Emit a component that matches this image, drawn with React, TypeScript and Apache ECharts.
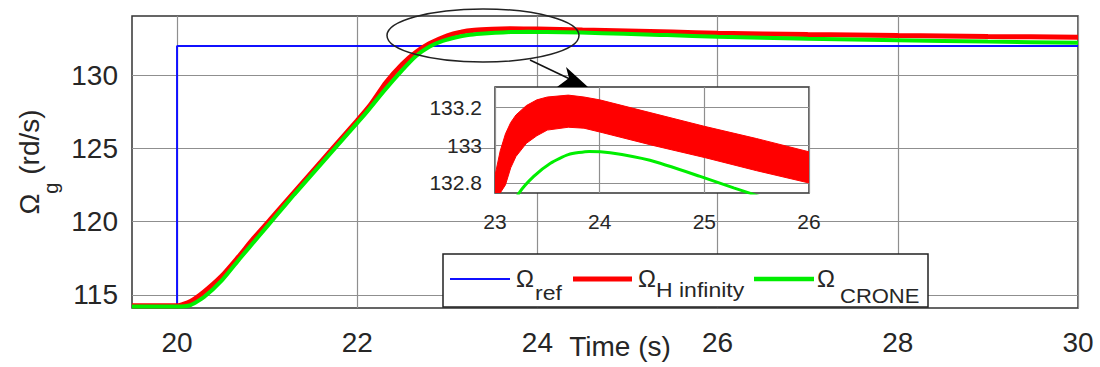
import React, { useEffect, useRef } from "react";
import * as echarts from "echarts";

// ---------- data ----------
const xTickValues = [20, 22, 24, 26, 28, 30];
const yTickValues = [115, 120, 125, 130];
const insetYTickValues = [132.8, 133, 133.2];

const refTime = [19.5, 20, 20, 30];
const refValue = [114.25, 114.25, 132, 132];

const hinfTime = [19.5, 20.0, 20.15, 20.3, 20.5, 20.67, 20.85, 21.03, 21.2, 21.4, 21.6, 21.77, 22.0, 22.15, 22.32, 22.5, 22.65, 22.8, 23.0, 23.15, 23.3, 23.5, 23.7, 24.0, 24.5, 25.0, 25.5, 26.0, 27, 28, 29, 30];
const hinfValue = [114.25, 114.25, 114.55, 115.2, 116.3, 117.5, 118.85, 120.1, 121.3, 122.7, 124.1, 125.3, 126.9, 128.0, 129.5, 130.75, 131.55, 132.15, 132.7, 132.95, 133.08, 133.15, 133.18, 133.155, 133.085, 133.02, 132.95, 132.88, 132.78, 132.71, 132.65, 132.6];

const croneTime = [19.5, 20.0, 20.15, 20.3, 20.5, 20.7, 20.9, 21.1, 21.3, 21.5, 21.7, 21.9, 22.1, 22.3, 22.5, 22.65, 22.8, 22.95, 23.1, 23.23, 23.37, 23.53, 23.7, 23.9, 24.1, 24.48, 24.96, 25.28, 25.44, 26, 27, 28, 29, 30];
const croneValue = [114.2, 114.2, 114.3, 114.85, 116.0, 117.5, 118.95, 120.4, 121.85, 123.25, 124.65, 126.05, 127.45, 128.95, 130.35, 131.3, 131.95, 132.35, 132.6, 132.747, 132.835, 132.905, 132.95, 132.967, 132.96, 132.92, 132.835, 132.774, 132.745, 132.64, 132.5, 132.4, 132.3, 132.22];

// H infinity oscillation envelope in the zoomed inset
const bandTime = [23.0, 23.05, 23.1, 23.15, 23.2, 23.3, 23.4, 23.5, 23.7, 23.85, 24.0, 24.5, 25.0, 25.5, 26.0];
const bandUpper = [132.84, 132.97, 133.06, 133.12, 133.16, 133.21, 133.24, 133.255, 133.265, 133.255, 133.24, 133.17, 133.1, 133.035, 132.965];
const bandLower = [132.55, 132.68, 132.79, 132.88, 132.94, 133.01, 133.05, 133.08, 133.095, 133.09, 133.07, 133.0, 132.935, 132.865, 132.8];

const legendNames = ["ref", "H infinity", "CRONE"];

// ---------- helpers ----------
const zip = (a: number[], b: number[]) => a.map((v, i) => [v, b[i]]);
const FONT = "'Liberation Sans', Arial, Helvetica, sans-serif";
const TXT = "#262626";
const GRIDC = "#8f8f8f";
const BLUE = "#1010ff";
const RED = "#ff0000";
const GREEN = "#00ee00";

export default function App() {
  const ref = useRef<HTMLDivElement>(null);

  useEffect(() => {
    if (!ref.current) return;
    const chart = echarts.init(ref.current, undefined, { renderer: "svg" });

    const legendText = (text: string, x: number, y: number, size: number, sx: number) => ({
      type: "text",
      x,
      y,
      scaleX: sx,
      z: 22,
      style: {
        text,
        fill: TXT,
        fontSize: size,
        fontFamily: FONT,
        align: "left",
        textAlign: "left",
        verticalAlign: "middle",
        textVerticalAlign: "middle",
      },
    });

    const option: any = {
      animation: false,
      backgroundColor: "#ffffff",
      textStyle: { fontFamily: FONT },
      grid: [
        { left: 132, top: 16, width: 946, height: 292, outerBoundsMode: "none", containLabel: false, show: true, borderColor: "#333", borderWidth: 1.5, backgroundColor: "#fff", z: 0 },
        { left: 495, top: 87, width: 314, height: 106, outerBoundsMode: "none", containLabel: false, show: true, borderColor: "#333", borderWidth: 1.5, backgroundColor: "#fff", z: 10 },
      ],
      xAxis: [
        {
          type: "value",
          gridIndex: 0,
          min: 19.5,
          max: 30,
          axisLine: { show: false },
          axisTick: { show: false, customValues: xTickValues },
          axisLabel: { customValues: xTickValues, fontSize: 28, color: TXT, margin: 20, fontFamily: FONT },
          splitLine: { show: true, lineStyle: { color: GRIDC, width: 1.2 } },
          name: "Time (s)",
          nameLocation: "middle",
          nameGap: 24,
          nameMoveOverlap: false,
          nameTextStyle: { fontSize: 28, color: TXT, fontFamily: FONT, padding: [0, 0, 0, 30] },
        },
        {
          type: "value",
          gridIndex: 1,
          min: 23,
          max: 26,
          interval: 1,
          z: 11,
          axisLine: { show: false },
          axisTick: { show: false },
          axisLabel: { fontSize: 21, color: TXT, margin: 18, fontFamily: FONT },
          splitLine: { show: true, lineStyle: { color: GRIDC, width: 1.2 } },
        },
      ],
      yAxis: [
        {
          type: "value",
          gridIndex: 0,
          min: 114.1,
          max: 134.05,
          axisLine: { show: false },
          axisTick: { show: false, customValues: yTickValues },
          axisLabel: { customValues: yTickValues, fontSize: 28, color: TXT, margin: 14, fontFamily: FONT },
          splitLine: { show: true, lineStyle: { color: GRIDC, width: 1.2 } },
          name: "{o|Ω}{s|g}{t| (rd/s)}",
          nameLocation: "middle",
          nameRotate: 90,
          nameGap: 71,
          nameMoveOverlap: false,
          nameTextStyle: {
            color: TXT,
            fontFamily: FONT,
            rich: {
              o: { fontSize: 28, lineHeight: 46, verticalAlign: "top", color: TXT, fontFamily: FONT },
              s: { fontSize: 20, lineHeight: 46, verticalAlign: "bottom", color: TXT, fontFamily: FONT },
              t: { fontSize: 28, lineHeight: 46, verticalAlign: "top", color: TXT, fontFamily: FONT },
            },
          },
        },
        {
          type: "value",
          gridIndex: 1,
          min: 132.747,
          max: 133.308,
          z: 11,
          axisLine: { show: false },
          axisTick: { show: false, customValues: insetYTickValues },
          axisLabel: { customValues: insetYTickValues, fontSize: 21, color: TXT, margin: 13, fontFamily: FONT },
          splitLine: { show: true, lineStyle: { color: GRIDC, width: 1.2 } },
        },
      ],
      series: [
        {
          name: legendNames[0],
          type: "line",
          xAxisIndex: 0,
          yAxisIndex: 0,
          data: zip(refTime, refValue),
          showSymbol: false,
          symbol: "none",
          lineStyle: { color: BLUE, width: 2 },
          z: 2,
        },
        {
          name: legendNames[1],
          type: "line",
          xAxisIndex: 0,
          yAxisIndex: 0,
          data: zip(hinfTime, hinfValue),
          symbol: "none",
          smooth: 0.2,
          lineStyle: { color: RED, width: 5 },
          z: 3,
        },
        {
          name: legendNames[2],
          type: "line",
          xAxisIndex: 0,
          yAxisIndex: 0,
          data: zip(croneTime, croneValue),
          symbol: "none",
          smooth: 0.2,
          lineStyle: { color: GREEN, width: 4 },
          z: 4,
        },
        {
          name: "H infinity (zoom)",
          type: "custom",
          xAxisIndex: 1,
          yAxisIndex: 1,
          z: 12,
          clip: true,
          data: bandTime.map((t, i) => [t, bandLower[i], bandUpper[i]]),
          encode: { x: 0, y: [1, 2] },
          renderItem: (params: any, api: any) => {
            if (params.dataIndex !== 0) return null;
            const pts: number[][] = [];
            for (let i = 0; i < bandTime.length; i++) pts.push(api.coord([bandTime[i], bandUpper[i]]));
            for (let i = bandTime.length - 1; i >= 0; i--) pts.push(api.coord([bandTime[i], bandLower[i]]));
            const cs = params.coordSys;
            const clipped = echarts.graphic.clipPointsByRect(pts, { x: cs.x, y: cs.y, width: cs.width, height: cs.height });
            return {
              type: "polygon",
              shape: { points: clipped },
              style: { fill: RED, stroke: RED, lineWidth: 1 },
            };
          },
        },
        {
          name: "CRONE (zoom)",
          type: "line",
          xAxisIndex: 1,
          yAxisIndex: 1,
          data: zip(croneTime, croneValue),
          symbol: "none",
          smooth: 0.2,
          lineStyle: { color: GREEN, width: 3 },
          z: 13,
        },
      ],
      graphic: [
        { type: "ellipse", z: 20, shape: { cx: 483, cy: 35.5, rx: 96, ry: 26.5 }, style: { fill: "none", stroke: "#222", lineWidth: 1.5 } },
        { type: "line", z: 20, shape: { x1: 530, y1: 60, x2: 574, y2: 81 }, style: { stroke: "#111", lineWidth: 1.5 } },
        { type: "polygon", z: 20, shape: { points: [[588, 87], [566, 67], [569, 78], [557, 87]] }, style: { fill: "#000" } },
        { type: "rect", z: 21, shape: { x: 443, y: 254, width: 485, height: 53 }, style: { fill: "#fff", stroke: "#222", lineWidth: 1.5 } },
        { type: "line", z: 22, shape: { x1: 450, y1: 279, x2: 510, y2: 279 }, style: { stroke: BLUE, lineWidth: 2 } },
        { type: "line", z: 22, shape: { x1: 573, y1: 279, x2: 632, y2: 279 }, style: { stroke: RED, lineWidth: 5 } },
        { type: "line", z: 22, shape: { x1: 754, y1: 279, x2: 814, y2: 279 }, style: { stroke: GREEN, lineWidth: 4.5 } },
        legendText("Ω", 516, 278, 24, 1),
        legendText(legendNames[0], 535, 293.5, 20, 1.15),
        legendText("Ω", 638, 278, 24, 1),
        legendText(legendNames[1], 656, 290, 20, 1.15),
        legendText("Ω", 817, 278, 24, 1),
        legendText(legendNames[2], 840, 296, 20, 1.1),
      ],
    };

    chart.setOption(option);
    return () => chart.dispose();
  }, []);

  return (
    <div
      ref={ref}
      style={{ position: "absolute", left: 0, top: 0, width: 1100, height: 367, background: "#fff" }}
    />
  );
}
